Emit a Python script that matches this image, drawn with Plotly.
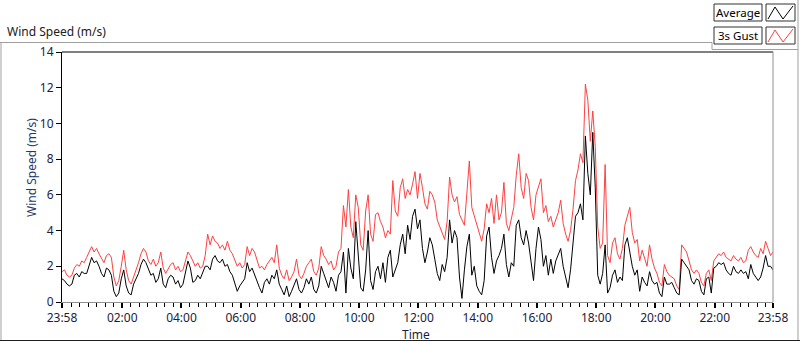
import pandas as pd
import plotly.graph_objects as go

# ---- data (5-minute samples, 23:58 -> 23:58 next day) ----
start_time = "2015-01-01 23:58"
end_time = "2015-01-02 23:58"

gust_1 = [1.7,1.8,1.5,1.4,1.5,1.9,2.1,2.0,2.3,2.2,
          2.5,2.8,3.1,2.8,3.0,2.7,2.4,2.2,2.6,2.7,
          2.5,1.4,0.9,1.2,2.0,2.9,1.8,1.2,1.0,1.4,
          1.7,2.2,2.7,3.0,2.8,2.3,2.1,2.4,2.0,2.2,
          2.8,1.9,1.6,1.9,2.1,2.2,1.8,2.0,1.7,1.8,
          2.3,2.8,2.6,2.3,2.0,2.2,1.9,2.0,2.6]
gust_2 = [3.8,3.2,3.7,3.4,3.3,3.0,3.2,2.9,3.4,2.9,
          2.7,2.3,2.0,2.2,1.9,2.1,3.1,2.6,3.0,2.8,
          2.4,1.9,2.0,1.8,2.1,2.3,2.5,2.2,3.2,1.9,
          1.5,1.3,1.8,1.2,1.4,1.7,2.4,1.5,1.3,1.6,
          2.0,2.2,2.4,1.7,1.5,1.9,3.1,2.6,2.4,2.1,
          2.3,1.8,2.0,2.8,3.0,5.4,4.2,6.3]
gust_3 = [4.2,3.6,6.0,5.3,3.2,2.9,5.1,6.0,3.8,3.4,
          4.9,5.0,4.5,4.2,3.6,4.0,3.8,6.8,5.1,4.8,
          6.4,6.9,5.8,6.3,6.0,6.6,7.3,5.8,7.2,6.4,
          5.5,5.2,6.2,6.0,5.6,4.6,4.2,3.9,3.5,4.5,
          7.0,6.0,5.6,5.9,4.9,4.6,4.3,6.1,7.9,5.3,
          4.8,4.4,3.8,3.4,4.1,5.5,5.0,5.8]
gust_4 = [4.4,6.0,4.6,5.0,6.7,4.4,4.0,4.6,5.3,7.1,
          8.3,6.4,5.8,7.2,6.8,5.3,4.6,6.0,6.5,6.9,
          5.0,5.4,4.5,4.8,4.2,4.6,5.0,5.7,4.4,3.8,
          3.4,4.0,5.2,6.8,7.4,8.3,7.8,12.2,11.3,9.0,
          10.7,8.7,4.2,3.0,3.3,7.7,2.6,2.2,3.3,3.6,
          2.7,2.4,3.0,4.3,4.8,5.3,3.9,3.3]
gust_5 = [3.5,2.3,2.9,2.4,2.0,3.2,2.4,1.9,1.6,1.1,
          0.9,2.1,1.7,1.5,1.4,1.3,0.9,0.7,3.2,3.0,
          2.8,2.3,1.8,1.6,1.8,1.6,1.1,0.9,1.6,1.8,
          1.2,2.3,2.5,2.7,2.6,2.8,2.5,2.4,2.3,2.6,
          2.4,2.3,2.5,2.2,2.3,2.9,3.1,2.8,2.6,2.5,
          3.0,2.7,3.4,3.0,2.6,2.8]

avg_1 = [1.3,1.2,1.0,0.9,1.0,1.5,1.6,1.4,1.7,1.6,
         1.6,2.0,2.5,2.2,2.3,2.0,1.6,1.4,1.9,1.8,
         1.5,0.6,0.3,0.5,1.3,1.8,0.9,0.5,0.4,1.0,
         1.3,1.6,2.1,2.4,2.2,1.8,1.5,1.6,1.1,1.3,
         1.9,1.0,0.8,1.3,1.5,1.4,1.0,1.2,0.8,1.0,
         1.6,2.3,1.9,1.1,1.2,1.5,1.3,1.6,2.0]
avg_2 = [2.0,1.8,2.4,2.6,2.3,2.2,2.4,2.0,2.1,1.7,
         1.5,1.1,0.6,0.9,1.1,1.3,2.2,1.7,1.9,1.5,
         1.2,0.8,0.5,1.1,1.3,1.0,1.5,1.3,1.8,1.0,
         0.7,0.4,0.9,0.3,0.6,0.9,1.3,0.7,0.5,0.8,
         1.3,1.0,1.4,0.7,0.5,0.9,2.0,1.6,1.2,0.8,
         1.4,1.1,0.6,1.5,1.7,2.8,0.5,3.0]
avg_3 = [1.9,1.3,4.5,2.6,0.8,0.6,1.8,4.0,1.2,0.7,
         1.7,2.0,1.3,2.2,1.1,2.5,2.9,1.4,1.8,2.2,
         3.2,3.8,2.7,4.3,3.5,4.8,5.2,4.1,4.6,3.0,
         2.2,2.8,3.6,3.2,2.4,1.6,1.2,2.1,1.7,2.5,
         4.6,3.3,4.0,3.6,1.4,0.2,1.8,3.1,3.8,1.5,
         2.0,0.9,0.6,0.4,1.2,3.7,4.2,2.5]
avg_4 = [1.6,2.3,2.6,3.0,3.8,2.1,1.4,2.2,2.0,4.3,
         4.6,3.6,3.2,4.0,3.3,2.2,1.2,3.0,4.2,3.5,
         2.0,2.6,1.5,2.4,1.6,2.3,2.7,3.0,2.0,1.3,
         0.8,1.8,3.4,4.8,5.0,5.5,4.6,9.3,7.2,6.0,
         9.5,6.4,1.5,1.0,1.6,3.2,0.5,0.8,1.5,1.8,
         1.1,1.4,1.2,3.2,3.6,2.8,2.0,1.5]
avg_5 = [1.8,0.6,1.4,1.1,0.9,1.7,1.2,1.0,1.1,0.5,
         0.3,1.4,1.0,1.0,1.1,0.8,0.5,0.4,2.4,2.2,
         2.0,1.8,1.2,1.0,1.3,1.2,0.6,0.4,1.3,1.4,
         0.5,1.9,2.0,2.2,2.1,2.2,1.8,1.6,1.5,2.0,
         1.7,1.6,1.8,1.6,1.7,1.3,2.1,1.6,1.4,1.2,
         1.4,1.9,2.6,2.0,2.0,1.8]

gust = gust_1 + gust_2 + gust_3 + gust_4 + gust_5
average = avg_1 + avg_2 + avg_3 + avg_4 + avg_5
times = pd.date_range(start_time, periods=len(gust), freq="5min")

tick_labels = ["23:58", "02:00", "04:00", "06:00", "08:00", "10:00", "12:00",
               "14:00", "16:00", "18:00", "20:00", "22:00", "23:58"]
tick_times = [pd.Timestamp(start_time)] + \
             [pd.Timestamp("2015-01-02 00:00") + pd.Timedelta(hours=h) for h in range(2, 23, 2)] + \
             [pd.Timestamp(end_time)]
minor_times = [pd.Timestamp("2015-01-02 00:00") + pd.Timedelta(minutes=120 * k / 7) for k in range(0, 7 * 12)]

# ---- layout geometry (pixels) ----
W, H = 800, 342
PL, PR, PT, PB = 62, 773, 52, 302
FONT = "Noto Sans"
TICKC = "#1c1c3c"


def px(x):
    return (x - PL) / (PR - PL)


def py(y):
    return (PB - y) / (PB - PT)


fig = go.Figure()
fig.add_trace(go.Scatter(x=times, y=gust, mode="lines", name="3s Gust",
                         line=dict(color="#ff4040", width=1), showlegend=False))
fig.add_trace(go.Scatter(x=times, y=average, mode="lines", name="Average",
                         line=dict(color="#000000", width=1), showlegend=False))

shapes = []


def line(x0, y0, x1, y1, color, width=1):
    shapes.append(dict(type="line", xref="paper", yref="paper",
                       x0=px(x0), y0=py(y0), x1=px(x1), y1=py(y1),
                       line=dict(color=color, width=width), layer="above"))


def rect(x0, y0, x1, y1, color):
    shapes.append(dict(type="rect", xref="paper", yref="paper",
                       x0=px(x0), y0=py(y0), x1=px(x1), y1=py(y1),
                       line=dict(color=color, width=1), fillcolor="white", layer="above"))


# outer frame
line(0, 42.5, 712, 42.5, "#a0a0a0")
line(712, 42.5, 712, 49.5, "#a0a0a0")
line(712, 49.5, 798, 49.5, "#a0a0a0")
line(1, 42, 1, 341, "#a0a0a0")
line(798, 0, 798, 341, "#a0a0a0")
line(0, 340.5, 800, 340.5, "#202020")
# plot frame
line(PL, PT, PR, PT, "#000000")
line(PR, PT, PR, PB, "#909090")

# legend boxes
rect(714, 4, 762, 21, "#303030")
rect(766, 4, 795, 21, "#303030")
rect(714, 27, 762, 44, "#303030")
rect(766, 27, 795, 44, "#303030")


def zig(x0, y0, color):
    pts = [(x0 + 2, y0 + 15), (x0 + 9, y0 + 3), (x0 + 17, y0 + 15), (x0 + 27, y0 + 2)]
    path = "M " + " L ".join(f"{px(a)},{py(b)}" for a, b in pts)
    shapes.append(dict(type="path", xref="paper", yref="paper", path=path,
                       line=dict(color=color, width=1), layer="above"))


zig(766, 4, "#000000")
zig(766, 27, "#ff4040")

annotations = [
    dict(text="Wind Speed (m/s)", x=px(5), y=py(32), xref="paper", yref="paper",
         xanchor="left", yanchor="middle", showarrow=False,
         font=dict(family=FONT, size=12, color="#202020")),
    dict(text="Average", x=px(738), y=py(12.5), xref="paper", yref="paper",
         xanchor="center", yanchor="middle", showarrow=False,
         font=dict(family=FONT, size=11.5, color="#000000")),
    dict(text="3s Gust", x=px(716), y=py(35.5), xref="paper", yref="paper",
         xanchor="left", yanchor="middle", showarrow=False,
         font=dict(family=FONT, size=11.5, color="#000000")),
    dict(text="Wind Speed (m/s)", x=px(31), y=py(168), xref="paper", yref="paper",
         xanchor="center", yanchor="middle", textangle=-90, showarrow=False,
         font=dict(family=FONT, size=12, color="#1e3a6e")),
    dict(text="Time", x=px(416), y=py(334), xref="paper", yref="paper",
         xanchor="center", yanchor="middle", showarrow=False,
         font=dict(family=FONT, size=12, color=TICKC)),
]

fig.update_layout(
    width=W, height=H,
    margin=dict(l=PL, r=W - PR, t=PT, b=H - PB, pad=0),
    paper_bgcolor="white", plot_bgcolor="white",
    shapes=shapes, annotations=annotations,
    font=dict(family=FONT, size=12, color=TICKC),
    xaxis=dict(
        range=[pd.Timestamp(start_time), pd.Timestamp(end_time)],
        tickmode="array", tickvals=tick_times, ticktext=tick_labels,
        ticks="outside", ticklen=5, tickwidth=2, tickcolor="#000000",
        showline=True, linecolor="#909090", linewidth=1,
        showgrid=False, zeroline=False,
        tickfont=dict(family=FONT, size=12, color=TICKC),
        minor=dict(tickmode="array", tickvals=minor_times, ticks="outside",
                   ticklen=4, tickwidth=1, tickcolor="#000000", showgrid=False),
    ),
    yaxis=dict(
        range=[0, 14], tickmode="linear", tick0=0, dtick=2,
        ticks="outside", ticklen=5, tickwidth=1, tickcolor="#000000",
        showline=True, linecolor="#000000", linewidth=1,
        showgrid=False, zeroline=False,
        tickfont=dict(family=FONT, size=12, color=TICKC),
    ),
)

fig.write_html(
    "out.html",
    config={"displayModeBar": False},
    post_script="document.body.style.margin='0';document.body.style.overflow='hidden';",
)
